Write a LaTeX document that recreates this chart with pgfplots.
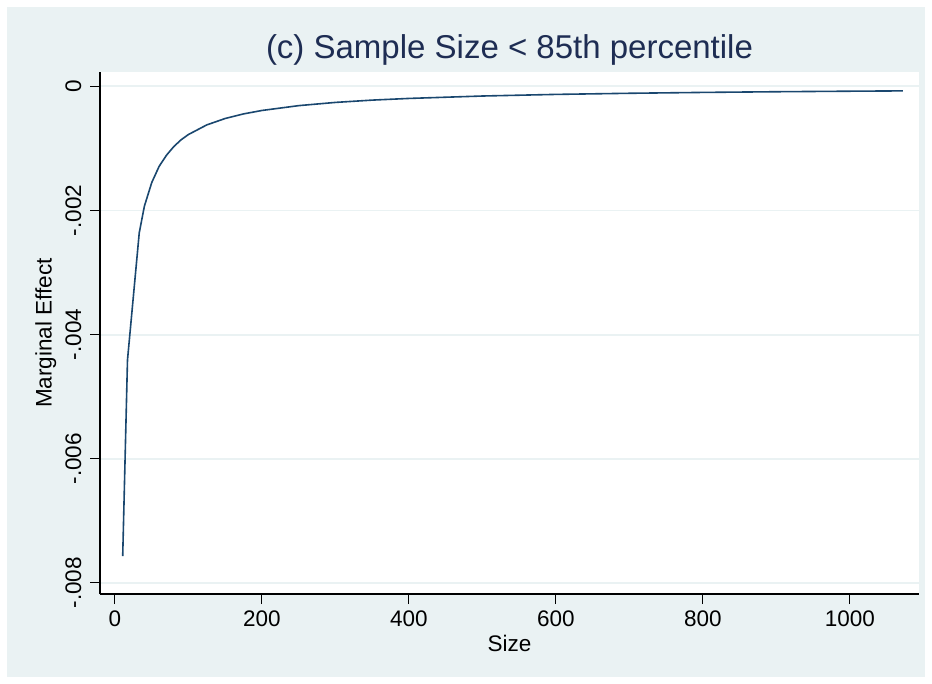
\documentclass[border=0pt]{standalone}
\usepackage{fontspec}
\setmainfont{Liberation Sans}
\usepackage{pgfplots}
\pgfplotsset{compat=1.18}
\definecolor{bgcol}{HTML}{EAF2F3}
\definecolor{linecol}{HTML}{1A476F}
\definecolor{titlecol}{HTML}{1E2D53}

\begin{document}
\begin{tikzpicture}
% outer frame: white margin, then the Stata-style graph region
\fill[white] (-100bp,-90bp) rectangle (832bp,594bp);
\fill[bgcol] (-93bp,-83bp) rectangle (825bp,587bp);
\begin{axis}[
  at={(0bp,0bp)}, anchor=south west,
  scale only axis,
  width=819bp, height=522bp,
  xmin=-20.4, xmax=1094,
  ymin=-0.00818, ymax=0.000232,
  scaled y ticks=false,
  axis background/.style={fill=white},
  axis x line*=bottom, axis y line*=left,
  axis line style={-, black, line width=1.2bp},
  tick align=outside,
  major tick length=10bp,
  tick style={black, line width=1bp},
  xtick={0,200,400,600,800,1000},
  xticklabels={0,200,400,600,800,1000},
  ytick={-0.008,-0.006,-0.004,-0.002,0},
  yticklabels={-.008,-.006,-.004,-.002,0},
  ymajorgrids,
  grid style={bgcol, line width=1.8bp},
  font=\fontsize{22.5bp}{27bp}\selectfont,
  xticklabel style={anchor=north, inner sep=0pt, yshift=-7bp},
  yticklabel style={xshift=-9bp, rotate=90, anchor=base, inner sep=0pt},
  title={(c) Sample Size < 85th percentile},
  title style={at={(0.5,1.0135)}, anchor=base, text=titlecol,
    font=\fontsize{33bp}{39bp}\selectfont},
  xlabel={Size},
  xlabel style={at={(0.5,-0.1092)}, anchor=base},
  ylabel={Marginal Effect},
  ylabel style={at={(-0.0590,0.5)}, anchor=base},
]
\addplot[linecol, line width=1.6bp] coordinates {
  (10.5,-0.00757) (17,-0.00441) (33,-0.00236) (40,-0.00193)
  (50,-0.00155) (60,-0.00129) (70,-0.00111) (80,-0.00097)
  (90,-0.00086) (100,-0.000775) (125,-0.00062) (150,-0.000517)
  (175,-0.000443) (200,-0.000388) (250,-0.00031) (300,-0.000258)
  (350,-0.000221) (400,-0.000194) (500,-0.000155) (600,-0.000129)
  (700,-0.000111) (800,-0.000097) (900,-0.000086) (1000,-0.0000775)
  (1072,-0.0000723)
};
\end{axis}
\end{tikzpicture}
\end{document}
